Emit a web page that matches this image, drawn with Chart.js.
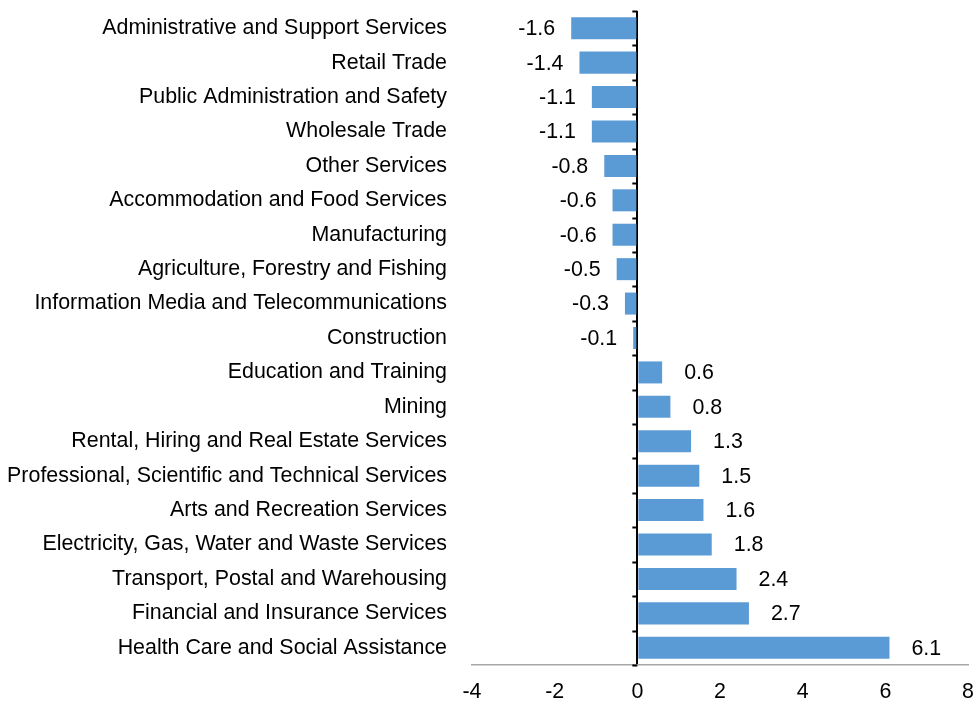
<!DOCTYPE html>
<html>
<head>
<meta charset="utf-8">
<script src="https://cdn.jsdelivr.net/npm/chart.js@4/dist/chart.umd.min.js"></script>
<style>
  html, body { margin: 0; padding: 0; background: #fff; }
  #wrap { width: 976px; height: 701px; }
</style>
</head>
<body>
<div id="wrap"><canvas id="chart" width="976" height="701"></canvas></div>
<script>
// Industries, top to bottom as in the chart
const industries = [
    'Administrative and Support Services',
    'Retail Trade',
    'Public Administration and Safety',
    'Wholesale Trade',
    'Other Services',
    'Accommodation and Food Services',
    'Manufacturing',
    'Agriculture, Forestry and Fishing',
    'Information Media and Telecommunications',
    'Construction',
    'Education and Training',
    'Mining',
    'Rental, Hiring and Real Estate Services',
    'Professional, Scientific and Technical Services',
    'Arts and Recreation Services',
    'Electricity, Gas, Water and Waste Services',
    'Transport, Postal and Warehousing',
    'Financial and Insurance Services',
    'Health Care and Social Assistance'
];
const changes = [-1.6, -1.4, -1.1, -1.1, -0.8, -0.6, -0.6, -0.5, -0.3, -0.1,
                 0.6, 0.8, 1.3, 1.5, 1.6, 1.8, 2.4, 2.7, 6.1];
const xTicks = [-4, -2, 0, 2, 4, 6, 8];

const FONT = 'Arial, "Liberation Sans", sans-serif';
const FONT_SIZE = 21.4;

// Small ticks on the zero line between categories
const zeroAxisTicks = {
    id: 'zeroAxisTicks',
    afterDatasetsDraw(chart) {
        const ctx = chart.ctx;
        const x = chart.scales.x.getPixelForValue(0);
        const y = chart.scales.y;
        const half = (y.getPixelForValue(1) - y.getPixelForValue(0)) / 2;
        ctx.save();
        ctx.strokeStyle = '#000';
        ctx.lineWidth = 2;
        for (let i = 0; i <= industries.length; i++) {
            const py = Math.round(y.getPixelForValue(i) - half) + 0.5;
            ctx.beginPath();
            ctx.moveTo(x - 5, py);
            ctx.lineTo(x, py);
            ctx.stroke();
        }
        ctx.restore();
    }
};

// Value labels just past the end of each bar
const valueLabels = {
    id: 'valueLabels',
    afterDatasetsDraw(chart) {
        const ctx = chart.ctx;
        const meta = chart.getDatasetMeta(0);
        ctx.save();
        ctx.font = FONT_SIZE + 'px ' + FONT;
        ctx.fillStyle = '#000';
        ctx.textBaseline = 'middle';
        meta.data.forEach((bar, i) => {
            const v = changes[i];
            if (v >= 0) {
                ctx.textAlign = 'left';
                ctx.fillText(v.toFixed(1), bar.x + 22, bar.y + 1);
            } else {
                ctx.textAlign = 'right';
                ctx.fillText(v.toFixed(1), bar.x - 16, bar.y + 1);
            }
        });
        ctx.restore();
    }
};

new Chart(document.getElementById('chart'), {
    type: 'bar',
    data: {
        labels: industries,
        datasets: [{
            data: changes,
            backgroundColor: '#5B9BD5',
            borderWidth: 0,
            categoryPercentage: 1,
            barPercentage: 0.64
        }]
    },
    options: {
        indexAxis: 'y',
        responsive: false,
        animation: false,
        layout: { padding: { top: 11, right: 8, left: 0, bottom: 0 } },
        plugins: {
            legend: { display: false },
            tooltip: { enabled: false }
        },
        scales: {
            x: {
                min: -4,
                max: 8,
                afterBuildTicks: scale => { scale.ticks = xTicks.map(v => ({ value: v })); },
                afterFit: scale => {
                    scale.height = 36;
                    scale.paddingLeft = 0;
                    scale.paddingRight = 0;
                },
                grid: {
                    drawTicks: false,
                    color: c => (c.tick && c.tick.value === 0 ? '#000' : 'rgba(0,0,0,0)'),
                    lineWidth: 2
                },
                border: { display: true, color: '#A6A6A6', width: 1.5 },
                ticks: {
                    padding: 14,
                    color: '#000',
                    font: { size: FONT_SIZE, family: FONT }
                }
            },
            y: {
                afterFit: scale => {
                    scale.width = 472;
                    scale.paddingTop = 0;
                    scale.paddingBottom = 0;
                },
                grid: { display: false, drawTicks: false },
                border: { display: false },
                ticks: {
                    padding: 25,
                    color: '#000',
                    font: { size: FONT_SIZE, family: FONT }
                }
            }
        }
    },
    plugins: [zeroAxisTicks, valueLabels]
});
</script>
</body>
</html>
